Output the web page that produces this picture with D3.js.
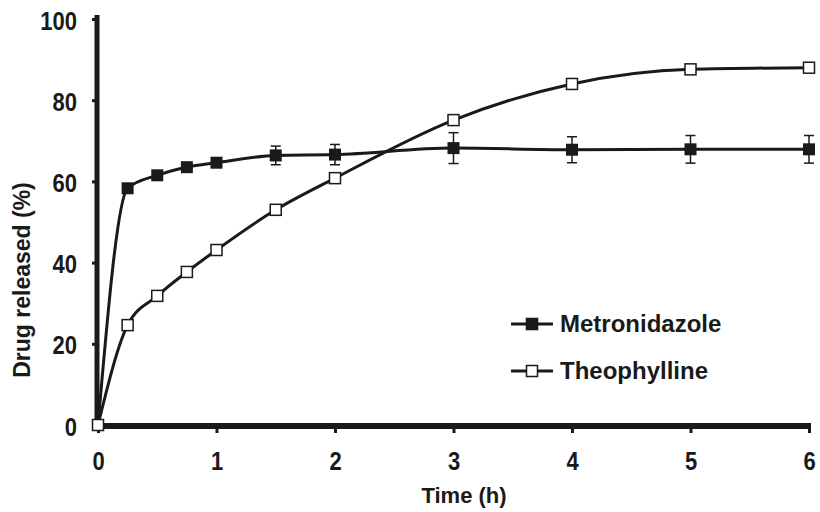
<!DOCTYPE html>
<html lang="en">
<head>
<meta charset="utf-8">
<title>Drug release</title>
<script src="https://d3js.org/d3.v7.min.js"></script>
<style>
  body { margin: 0; background: #fff; }
  text { font-family: "Liberation Sans", Arial, sans-serif; font-weight: bold; fill: #1a1a1a; }
</style>
</head>
<body>
<div id="chart"></div>
<script>
var width = 820, height = 512;

// data
var times = [0, 0.25, 0.5, 0.75, 1, 1.5, 2, 3, 4, 5, 6];
var metro = [0, 58.3, 61.5, 63.5, 64.6, 66.4, 66.6, 68.2, 67.8, 67.9, 67.9];
var metroErr = [0, 0, 0, 0, 0, 2.3, 2.5, 3.8, 3.2, 3.4, 3.4];
var theo = [0, 24.6, 31.8, 37.7, 43.1, 53.0, 60.8, 75.1, 84.0, 87.6, 88.0];
var xTicks = [0, 1, 2, 3, 4, 5, 6];
var yTicks = [0, 20, 40, 60, 80, 100];
var seriesNames = ["Metronidazole", "Theophylline"];

var x = d3.scaleLinear().domain([0, 6]).range([98, 809]);
var y = d3.scaleLinear().domain([0, 100]).range([425, 19]);

var svg = d3.select("#chart").append("svg")
  .attr("width", width).attr("height", height);

// axes (tick digits in the original are tall and narrow, so stretch them a bit)
var yAxis = svg.append("g").attr("transform", "translate(97,0)")
  .call(d3.axisLeft(y).tickValues(yTicks).tickFormat(d3.format("d")).tickSize(5));
yAxis.select(".domain").attr("stroke", "#1a1a1a").attr("stroke-width", 5)
  .attr("d", "M0," + (y(100) - 4) + "V" + (y(0) + 3));
yAxis.selectAll(".tick line").attr("stroke", "#1a1a1a").attr("stroke-width", 3);
yAxis.selectAll(".tick text").style("font-size", "22px")
  .attr("x", 0).attr("dy", 0)
  .attr("transform", "translate(-20,10) scale(1,1.14)");

var xAxis = svg.append("g").attr("transform", "translate(0,426)")
  .call(d3.axisBottom(x).tickValues(xTicks).tickFormat(d3.format("d")).tickSize(7));
xAxis.select(".domain").attr("stroke", "#1a1a1a").attr("stroke-width", 6)
  .attr("d", "M" + x(0) + ",0H" + (x(6) + 2));
xAxis.selectAll(".tick line").attr("stroke", "#1a1a1a").attr("stroke-width", 3);
xAxis.selectAll(".tick text").style("font-size", "22px")
  .attr("y", 0).attr("dy", 0)
  .attr("transform", "translate(0,44) scale(1,1.14)");

svg.append("text")
  .attr("x", 464).attr("y", 503)
  .attr("text-anchor", "middle").style("font-size", "22px")
  .text("Time (h)");

svg.append("text")
  .attr("transform", "translate(30,280) rotate(-90)")
  .attr("text-anchor", "middle").style("font-size", "23px")
  .text("Drug released (%)");

var line = function(vals) {
  return d3.line()
    .x(function(d, i) { return x(times[i]); })
    .y(function(d) { return y(d); })
    .curve(d3.curveMonotoneX)(vals);
};

// error bars for metronidazole
var eb = svg.append("g");
times.forEach(function(t, i) {
  if (!metroErr[i]) return;
  var cx = x(t), top = y(metro[i] + metroErr[i]), bot = y(metro[i] - metroErr[i]);
  eb.append("line").attr("x1", cx).attr("x2", cx).attr("y1", top).attr("y2", bot)
    .attr("stroke", "#1a1a1a").attr("stroke-width", 1.5);
  [top, bot].forEach(function(yy) {
    eb.append("line").attr("x1", cx - 5).attr("x2", cx + 5).attr("y1", yy).attr("y2", yy)
      .attr("stroke", "#1a1a1a").attr("stroke-width", 1.5);
  });
});

svg.append("path").attr("d", line(theo))
  .attr("fill", "none").attr("stroke", "#1a1a1a").attr("stroke-width", 3);
svg.append("path").attr("d", line(metro))
  .attr("fill", "none").attr("stroke", "#1a1a1a").attr("stroke-width", 3);

var sz = 12;
svg.append("g").selectAll("rect").data(metro).enter().append("rect")
  .attr("x", function(d, i) { return x(times[i]) - sz / 2; })
  .attr("y", function(d) { return y(d) - sz / 2; })
  .attr("width", sz).attr("height", sz)
  .attr("fill", "#1a1a1a");
svg.append("g").selectAll("rect").data(theo).enter().append("rect")
  .attr("x", function(d, i) { return x(times[i]) - sz / 2 + 0.5; })
  .attr("y", function(d) { return y(d) - sz / 2 + 0.5; })
  .attr("width", sz - 1).attr("height", sz - 1)
  .attr("fill", "#fff").attr("stroke", "#1a1a1a").attr("stroke-width", 1.5);

// legend
var leg = svg.append("g");
seriesNames.forEach(function(name, i) {
  var ly = 324 + i * 47;
  leg.append("line").attr("x1", 511).attr("x2", 553).attr("y1", ly).attr("y2", ly)
    .attr("stroke", "#1a1a1a").attr("stroke-width", 3);
  leg.append("rect").attr("x", 532 - 5.5).attr("y", ly - 5.5)
    .attr("width", 11).attr("height", 11)
    .attr("fill", i === 0 ? "#1a1a1a" : "#fff")
    .attr("stroke", "#1a1a1a").attr("stroke-width", 1.5);
  leg.append("text").attr("x", 560).attr("y", ly + 8)
    .style("font-size", "24px").text(name);
});
</script>
</body>
</html>
